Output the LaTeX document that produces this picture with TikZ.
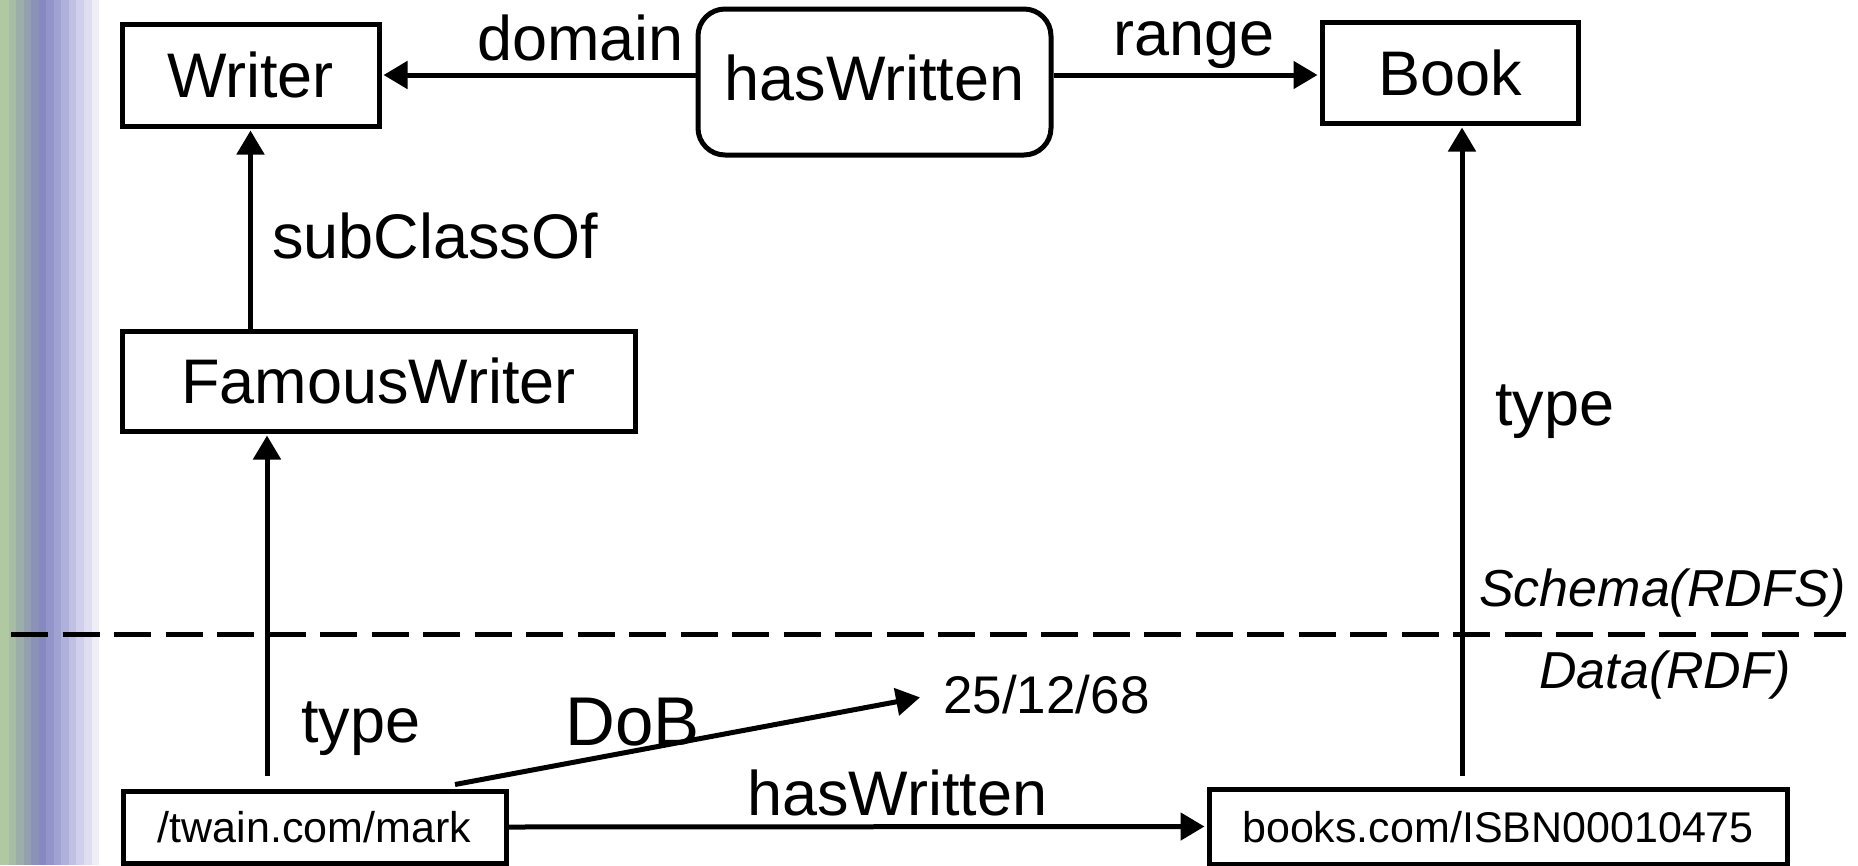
\documentclass[tikz,border=0pt]{standalone}
\usepackage{fontspec}
\setmainfont{Liberation Sans}
\usetikzlibrary{arrows.meta}
\definecolor{s1}{HTML}{B0C9A0}
\definecolor{s2}{HTML}{A6BCA5}
\definecolor{s3}{HTML}{9CAEAA}
\definecolor{s4}{HTML}{92A0B0}
\definecolor{s5}{HTML}{8A92B8}
\definecolor{s6}{HTML}{8688C0}
\definecolor{s7}{HTML}{9294CA}
\definecolor{s8}{HTML}{A0A2D2}
\definecolor{s9}{HTML}{B0B0DC}
\definecolor{s10}{HTML}{C0C0E4}
\definecolor{s11}{HTML}{D0D0EC}
\definecolor{s12}{HTML}{DEDEF0}
\definecolor{s13}{HTML}{EEEEF6}
\begin{document}
\begin{tikzpicture}[x=1pt,y=-1pt,
  bx/.style={draw, line width=5pt, inner sep=0pt, text depth=0pt},
  big/.style={font=\fontsize{63}{70}\selectfont},
  small/.style={font=\fontsize{43}{50}\selectfont},
  arr/.style={line width=5pt, shorten >=2pt, -{Triangle[length=24pt,width=27pt]}},
  lbl/.style={anchor=base west, inner sep=0pt, font=\fontsize{63}{70}\selectfont},
  ital/.style={anchor=base west, inner sep=0pt, font=\fontsize{52}{60}\selectfont\itshape},
  sep/.style={line width=5pt, dash pattern=on 37pt off 14.5pt}]
\useasboundingbox (0,0) rectangle (1858,865);
% side stripes
\foreach \a/\b/\c in {0/9/s1,9/16/s2,16/24/s3,24/31/s4,31/39/s5,39/46/s6,46/54/s7,54/61/s8,61/69/s9,69/76/s10,76/84/s11,84/92/s12,92/99/s13}
  \fill[\c] (\a,0) rectangle (\b,865);
% nodes
\node[bx, big, minimum width=257pt, minimum height=102pt, text height=45pt] (wr) at (250.5,75) {Writer};
\node[bx, big, rounded corners=27pt, minimum width=353pt, minimum height=146pt, text height=45pt, text depth=9pt] (hw) at (874.5,82) {hasWritten};
\node[bx, big, minimum width=256pt, minimum height=101pt, text height=45pt] (bk) at (1450,72.5) {Book};
\node[bx, big, minimum width=513pt, minimum height=100pt, text height=45pt] (fw) at (378.5,381) {FamousWriter};
\node[bx, small, minimum width=383pt, minimum height=72pt, text height=31pt] (tw) at (314.5,827) {/twain.com/mark};
\node[bx, small, minimum width=578pt, minimum height=75pt, text height=31pt] (bks) at (1498,826.5) {books.com/ISBN00010475};
% labels
\node[lbl] (ldomain) at (477,60) {domain};
\node[lbl] (lrange) at (1113,55) {range};
\node[lbl] (lsub) at (272,258) {subClassOf};
\node[lbl] (ltype1) at (1495,425) {type};
\node[lbl] (ltype2) at (301,742) {type};
\node[lbl, font=\fontsize{69}{76}\selectfont] (ldob) at (565,745) {DoB};
\node[lbl, font=\fontsize{53}{60}\selectfont] (date) at (943,713) {25/12/68};
\node[lbl] (lhw) at (747,815) {hasWritten};
\node[ital] (lschema) at (1479,606) {Schema(RDFS)};
\node[ital] (ldata) at (1539,688) {Data(RDF)};
% separator
\coordinate (sepL) at (11,634);
\coordinate (sepR) at (1846,634);
\draw[sep] (sepL) -- (sepR);
% connectors
\draw[arr] (hw.west |- wr.east) -- (wr.east);
\draw[arr] (hw.east |- wr.east) -- (bk.west |- wr.east);
\draw[arr] (fw.north -| wr.south) -- (wr.south);
\draw[arr] ([xshift=-47.5pt,yshift=13pt]tw.north) -- ([xshift=-111.5pt]fw.south);
\draw[arr] ([xshift=-36pt,yshift=11pt]bks.north) -- ([xshift=12pt]bk.south);
\draw[arr] ([xshift=140.5pt,yshift=4pt]tw.north) -- ([xshift=-21pt,yshift=16pt]date.base west);
\draw[arr] (tw.east) -- (bks.west);
\end{tikzpicture}
\end{document}
